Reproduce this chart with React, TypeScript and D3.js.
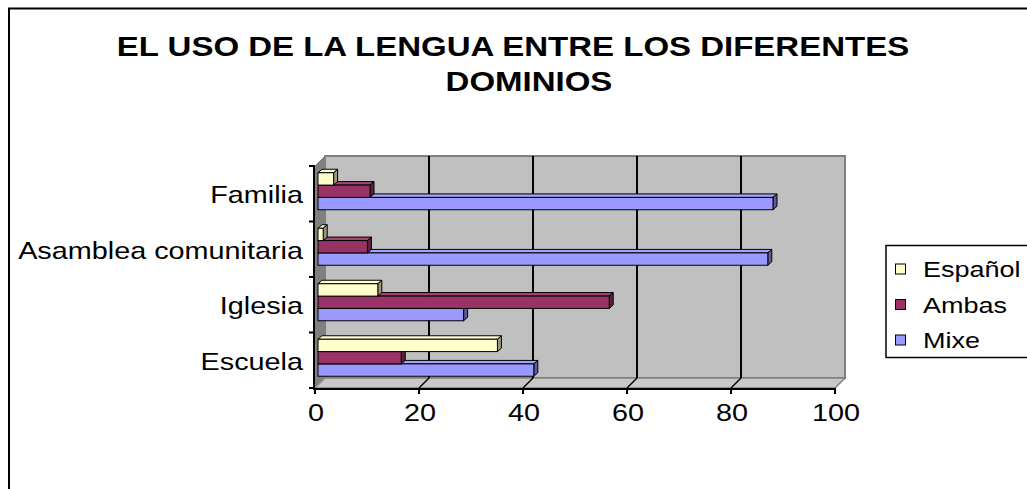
import React from "react";
import * as d3 from "d3";

const categories = ["Escuela", "Iglesia", "Asamblea comunitaria", "Familia"];
const seriesNames = ["Español", "Ambas", "Mixe"];
const espanol = [34.5, 11.5, 1, 3];
const ambas = [16, 56, 9.5, 10];
const mixe = [41.5, 28, 86.5, 87.5];
const xTicks = [0, 20, 40, 60, 80, 100];
const titleLines = ["EL USO DE LA LENGUA ENTRE LOS DIFERENTES", "DOMINIOS"];

const seriesValues: Record<string, number[]> = { "Español": espanol, "Ambas": ambas, "Mixe": mixe };
const fronts: Record<string, string> = { "Español": "#FFFFCC", "Ambas": "#993366", "Mixe": "#9999FF" };
const sides: Record<string, string> = { "Español": "#99997A", "Ambas": "#5C1F3D", "Mixe": "#5C5C99" };
const tops: Record<string, string> = { "Español": "#FFFFD6", "Ambas": "#A3476F", "Mixe": "#A3A3FF" };

const FONT = "'Liberation Sans', Arial, Helvetica, sans-serif";
const SX = 1.2;

export default function App() {
  const x = d3.scaleLinear().domain([0, 100]).range([315, 835]);
  const y = d3.scaleBand<string>().domain([...categories].reverse()).range([166, 388]).padding(0);
  const bw = y.bandwidth();
  const sub = d3.scaleBand<string>().domain(seriesNames).range([bw / 2 - 18.5, bw / 2 + 18.5]).padding(0);
  const bh = sub.bandwidth();
  const DX = 10, DY = -10; // wall depth
  const bx = 3, by = -2.5; // bar plane offset
  const dX = 4, dY = -3.5; // bar depth

  const top = 166, bottom = 388;
  const x0 = x(0), x1 = x(100);
  const pts = (a: number[][]) => a.map((p) => p.join(",")).join(" ");

  const bars: JSX.Element[] = [];
  categories.forEach((c, ci) => {
    [...seriesNames].reverse().forEach((s) => {
      const v = seriesValues[s][ci];
      const xa = x(0) + bx;
      const xb = x(v) + bx;
      const ya = (y(c) as number) + (sub(s) as number) + by;
      const yb = ya + bh;
      bars.push(
        <g key={c + s}>
          <polygon points={pts([[xa, ya], [xa + dX, ya + dY], [xb + dX, ya + dY], [xb, ya]])} fill={tops[s]} stroke="#000" strokeWidth={1} strokeLinejoin="round" />
          <polygon points={pts([[xb, ya], [xb + dX, ya + dY], [xb + dX, yb + dY], [xb, yb]])} fill={sides[s]} stroke="#000" strokeWidth={1} strokeLinejoin="round" />
          <rect x={xa} y={ya} width={xb - xa} height={bh} fill={fronts[s]} stroke="#000" strokeWidth={1} />
        </g>
      );
    });
  });

  const catBounds = [top, ...categories.map((c) => (y(c) as number) + bw)];

  return (
    <svg width={1027} height={489} style={{ position: "absolute", left: 0, top: 0, background: "#fff" }} fontFamily={FONT}>
      <rect x={0} y={0} width={1027} height={489} fill="#fff" />
      <rect x={9} y={8.5} width={1100} height={600} fill="none" stroke="#000" strokeWidth={2} />

      {titleLines.map((t, i) => (
        <text key={t} transform={`translate(${i === 0 ? 513 : 529},${i === 0 ? 56 : 91}) scale(${SX},1)`} textAnchor="middle" fontSize={27.5} fontWeight="bold" fill="#000">{t}</text>
      ))}

      {/* back wall */}
      <rect x={x0 + DX} y={top + DY} width={x1 - x0} height={bottom - top} fill="#C0C0C0" stroke="#808080" strokeWidth={2} />
      {/* left wall */}
      <polygon points={pts([[x0, top], [x0 + DX, top + DY], [x0 + DX, bottom + DY], [x0, bottom]])} fill="#808080" stroke="#808080" strokeWidth={1} />
      {/* floor */}
      <polygon points={pts([[x0, bottom], [x1, bottom], [x1 + DX, bottom + DY], [x0 + DX, bottom + DY]])} fill="#C8C8C8" stroke="#808080" strokeWidth={1.5} />

      {/* gridlines */}
      {xTicks.filter((t) => t > 0 && t < 100).map((t) => (
        <g key={"g" + t}>
          <line x1={x(t) + DX} x2={x(t) + DX} y1={top + DY} y2={bottom + DY} stroke="#000" strokeWidth={2} />
          <line x1={x(t)} x2={x(t) + DX} y1={bottom} y2={bottom + DY} stroke="#000" strokeWidth={1.5} />
        </g>
      ))}
      <line x1={x0} x2={x0 + DX} y1={bottom} y2={bottom + DY} stroke="#A0A0A0" strokeWidth={1} />

      {bars}

      {/* value axis */}
      <line x1={x0 - 1} x2={x1} y1={bottom + 1} y2={bottom + 1} stroke="#000" strokeWidth={2} />
      {xTicks.map((t) => (
        <g key={"t" + t}>
          <line x1={x(t)} x2={x(t)} y1={bottom} y2={bottom + 6} stroke="#000" strokeWidth={2} />
          <text transform={`translate(${x(t) + 1},${421}) scale(${SX},1)`} textAnchor="middle" fontSize={24} fill="#000">{t}</text>
        </g>
      ))}

      {/* category axis */}
      <line x1={x0 - 1} x2={x0 - 1} y1={top - 1} y2={bottom + 2} stroke="#000" strokeWidth={2} />
      {catBounds.map((b, i) => (
        <line key={"c" + i} x1={x0 - 6} x2={x0} y1={b} y2={b} stroke="#000" strokeWidth={2} />
      ))}
      {categories.map((c) => (
        <text key={c} transform={`translate(${303},${(y(c) as number) + bw / 2 + 9.5}) scale(${SX},1)`} textAnchor="end" fontSize={24} fill="#000">{c}</text>
      ))}

      {/* legend */}
      <rect x={886} y={245.5} width={200} height={112} fill="#fff" stroke="#000" strokeWidth={1.5} />
      {seriesNames.map((s, i) => {
        const cy = 269 + i * 35.5;
        return (
          <g key={"l" + s}>
            <rect x={895.5} y={cy - 5} width={10} height={10} fill={fronts[s]} stroke="#000" strokeWidth={1} />
            <text transform={`translate(${923},${cy + 8}) scale(${SX},1)`} fontSize={22.5} fill="#000">{s}</text>
          </g>
        );
      })}
    </svg>
  );
}
